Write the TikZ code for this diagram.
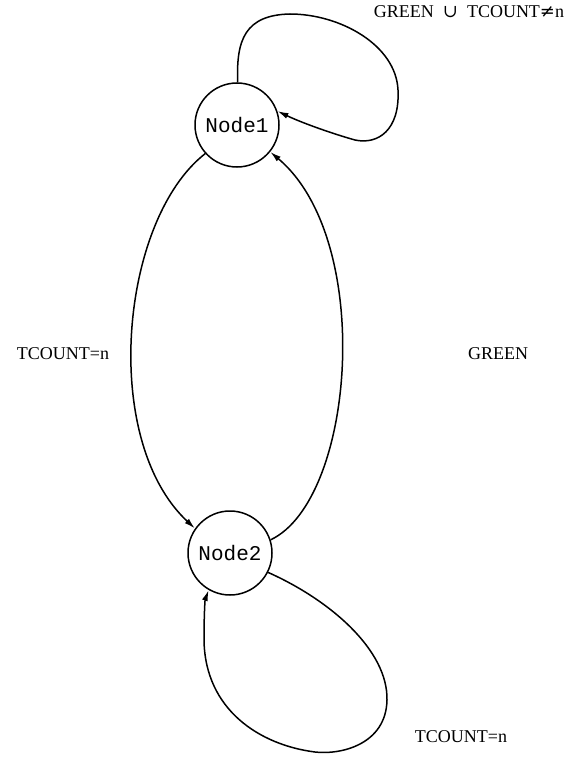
\documentclass[tikz,border=0pt]{standalone}
\usepackage{fontspec}
\setmainfont{Liberation Serif}
\newfontfamily\statefont{Liberation Mono}
\newfontfamily\symfont{DejaVu Serif}
\usetikzlibrary{arrows.meta}
\begin{document}
\begin{tikzpicture}[x=1pt,y=-1pt,
  state/.style={circle,draw,line width=1.5pt,minimum size=84pt,inner sep=0pt,
    font=\statefont\fontsize{21}{24}\selectfont},
  edge/.style={line width=1.5pt,-{Latex[length=11pt,width=6pt]}},
  lbl/.style={font=\fontsize{18}{21}\selectfont}]
\useasboundingbox (0,0) rectangle (586,760);

\node[state] (n1) at (237,125) {Node1};
\node[state] (n2) at (230,553) {Node2};

% self loop on Node1
\draw[edge] (n1.89) .. controls (236,40) and (245,15) .. (290,14)
  .. controls (340,14) and (396,45) .. (398,90)
  .. controls (400,130) and (378,145) .. (355,140)
  .. controls (330,133) and (300,122) .. (n1.19);

% Node1 -> Node2
\draw[edge] (n1.222) .. controls (120,220) and (100,440) .. (n2.145);

% Node2 -> Node1
\draw[edge] (n2.18) .. controls (355,500) and (375,240) .. (n1.321);

% self loop on Node2
\draw[edge] (n2.333) .. controls (330,600) and (388,650) .. (387,700)
  .. controls (386,745) and (340,755) .. (315,752)
  .. controls (260,745) and (205,710) .. (204,640)
  .. controls (204,615) and (205,600) .. (n2.240);

\node[lbl] (l1) at (469,12) {GREEN \ {\symfont ∪} \ TCOUNT{\symfont ≠}n};
\node[lbl] (l2) at (63,354) {TCOUNT=n};
\node[lbl] (l3) at (498,354) {GREEN};
\node[lbl] (l4) at (461,737) {TCOUNT=n};
\end{tikzpicture}
\end{document}
